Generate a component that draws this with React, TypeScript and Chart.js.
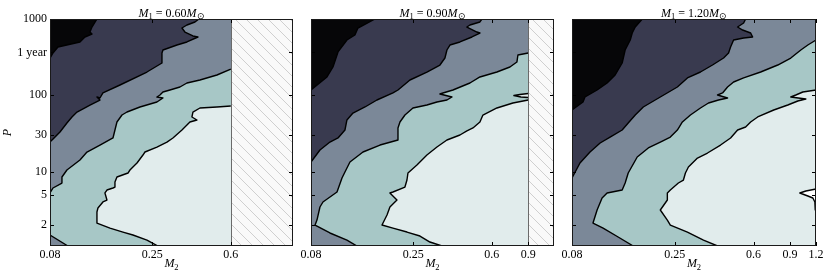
import React, { useEffect, useRef } from 'react';
import { Chart, registerables } from 'chart.js';
Chart.register(...registerables);

const SERIF = '"Liberation Serif", "Times New Roman", serif';

// ---- axes ----
const M2_MIN = 0.08;
const M2_MAX = 1.2;
const P_MIN = 1.06;
const P_MAX = 1000;
const yTickValues = [2, 5, 10, 30, 100, 365, 1000];
const yTickLabels = ['2', '5', '10', '30', '100', '1 year', '1000'];
const xTicks060 = [0.08, 0.25, 0.6];
const xTicks090 = [0.08, 0.25, 0.6, 0.9];
const xTicks120 = [0.08, 0.25, 0.6, 0.9, 1.2];
const m1Labels = ['0.60', '0.90', '1.20'];
const hatchFrom = [0.6, 0.9, null];

// fill colours of contour levels (lowest -> highest), last one = above top level
const levelColors = ['#060608', '#393a4f', '#7b8898', '#a7c7c6', '#e1ecec', '#ffffff'];

// ---- M1 = 0.60 ----
const m060_c1_M2 = [0.135, 0.1277, 0.1249, 0.1277, 0.1181, 0.1117, 0.0874, 0.0827, 0.08];
const m060_c1_P = [1000, 785, 675, 636, 581, 500, 430, 359, 308];
const m060_c2_M2 = [0.4207, 0.4023, 0.368, 0.3481, 0.3599, 0.3934, 0.416, 0.368, 0.3293, 0.2817, 0.2786, 0.2786, 0.2357, 0.1745, 0.1443, 0.1396, 0.135, 0.1396, 0.1249, 0.1081, 0.1022, 0.0966, 0.0894, 0.0846, 0.08];
const m060_c2_P = [1000, 914, 834, 762, 675, 599, 581, 500, 456, 392.5, 359, 265, 202, 136.5, 107.3, 92.2, 95.0, 86.8, 74.6, 60.4, 52.0, 43.4, 33.1, 28.4, 24.4];
const m060_c3_M2 = [0.6, 0.5141, 0.4254, 0.368, 0.3404, 0.3045, 0.2817, 0.2724, 0.2634, 0.2817, 0.2724, 0.2634, 0.218, 0.1887, 0.1784, 0.1687, 0.165, 0.1614, 0.1396, 0.1208, 0.1117, 0.0966, 0.0914, 0.0914, 0.0827, 0.08];
const m060_c3_P = [221, 184.6, 158.7, 145, 128.5, 117.4, 110.5, 100.9, 95.0, 92.2, 86.8, 81.7, 70.3, 60.4, 55.2, 44.7, 35.1, 27.6, 22.3, 18.07, 14.19, 10.5, 8.5, 7.09, 6.1, 5.25];
const m060_c4_M2 = [0.6, 0.5141, 0.4254, 0.3934, 0.3891, 0.4114, 0.3805, 0.368, 0.3481, 0.3148, 0.2945, 0.2634, 0.2305, 0.2254, 0.2109, 0.195, 0.1908, 0.1687, 0.165, 0.165, 0.1614, 0.1509, 0.1476, 0.1509, 0.1443, 0.1365, 0.135, 0.135, 0.1561, 0.1804, 0.2016, 0.2357, 0.2663];
const m060_c4_P = [72.4, 70.3, 68.2, 60.4, 52.0, 47.5, 44.7, 40.8, 35.1, 27.6, 24.4, 21.0, 18.07, 16.5, 12.96, 10.5, 9.59, 8.5, 7.31, 6.28, 6.1, 5.74, 5.25, 4.245, 4.0, 3.34, 2.96, 2.12, 1.82, 1.615, 1.476, 1.269, 1.06];
const m060_corner_M2 = [0.08, 0.0977];
const m060_corner_P = [1.476, 1.06];

// ---- M1 = 0.90 ----
const m090_c1_M2 = [0.1632, 0.135, 0.1305, 0.1194, 0.1081, 0.1022, 0.0956, 0.08];
const m090_c1_P = [1000, 762, 617, 531, 370, 235, 174, 117.4];
const m090_c2_M2 = [0.5375, 0.5256, 0.4702, 0.4547, 0.5083, 0.5256, 0.4808, 0.4207, 0.3763, 0.3639, 0.3559, 0.3366, 0.2912, 0.241, 0.2109, 0.1994, 0.1668, 0.146, 0.1277, 0.1194, 0.1168, 0.1081, 0.0988, 0.0884, 0.08];
const m090_c2_P = [1000, 914, 834, 785, 675, 655, 581, 500, 456, 392.5, 308, 249.5, 202, 158.7, 117.4, 107.3, 86.8, 70.3, 58.6, 47.5, 35.1, 27.6, 24.4, 19.19, 13.36];
const m090_c3_M2 = [0.9, 0.8027, 0.7937, 0.7342, 0.6352, 0.5256, 0.4702, 0.3891, 0.3481, 0.3366, 0.3848, 0.3639, 0.3256, 0.2912, 0.2492, 0.2279, 0.2156, 0.2109, 0.2109, 0.1726, 0.1428, 0.1235, 0.1168, 0.113, 0.1069, 0.0914, 0.0884, 0.0855, 0.0837, 0.0988, 0.1194, 0.1335];
const m090_c3_P = [359, 337.5, 273, 235, 202, 174, 145, 117.4, 107.3, 104.1, 95.0, 86.8, 81.7, 74.6, 68.2, 55.2, 44.7, 37.3, 25.95, 22.3, 18.07, 13.36, 9.88, 8.25, 5.41, 4.0, 3.44, 2.32, 1.995, 1.57, 1.269, 1.06];
const m090_c4_M2 = [0.9, 0.7592, 0.6352, 0.5435, 0.5256, 0.4863, 0.4547, 0.4207, 0.3639, 0.3256, 0.2912, 0.2605, 0.2357, 0.2331, 0.2279, 0.1994, 0.1928, 0.2085, 0.1928, 0.1866, 0.1765, 0.1994, 0.2331, 0.2694, 0.3011, 0.3442];
const m090_c4_P = [86.8, 79.3, 68.2, 55.2, 44.7, 37.3, 34.1, 30.2, 25.95, 21.0, 16.5, 12.2, 9.59, 7.76, 6.28, 5.41, 5.25, 4.245, 3.44, 2.7, 1.995, 1.82, 1.615, 1.432, 1.195, 1.06];
const m090_tongue_M2 = [0.9, 0.8206, 0.7676, 0.8298, 0.9];
const m090_tongue_P = [105.7, 102.5, 99.4, 95.0, 93.6];

// ---- M1 = 1.20 ----
const m120_c1_M2 = [0.1745, 0.1614, 0.1561, 0.1527, 0.1443, 0.1396, 0.1291, 0.1181, 0.1057, 0.0924, 0.0904, 0.08];
const m120_c1_P = [1000, 785, 655, 531, 392.5, 265, 184.6, 145, 117.4, 95.0, 81.7, 64.2];
const m120_c2_M2 = [0.5495, 0.5375, 0.5027, 0.5315, 0.581, 0.5941, 0.5375, 0.4808, 0.465, 0.4547, 0.4302, 0.3805, 0.3329, 0.288, 0.2576, 0.2132, 0.1765, 0.1614, 0.1493, 0.1396, 0.1221, 0.1093, 0.0977, 0.0874, 0.08];
const m120_c2_P = [1000, 887, 785, 717, 655, 581, 564, 531, 430, 359, 308, 249.5, 202, 169, 128.5, 95.0, 70.3, 55.2, 43.4, 35.1, 28.4, 23.7, 18.07, 12.96, 8.25];
const m120_c3_M2 = [1.2, 1.096, 1.014, 0.9071, 0.7849, 0.6494, 0.5375, 0.4808, 0.4497, 0.4254, 0.4023, 0.4497, 0.4068, 0.3639, 0.3329, 0.2978, 0.2724, 0.2576, 0.2383, 0.2132, 0.1866, 0.165, 0.1493, 0.1443, 0.1396, 0.1181, 0.1117, 0.1057, 0.101, 0.113, 0.1335, 0.1579];
const m120_c3_P = [531, 456, 392.5, 308, 249.5, 202, 169, 149.5, 128.5, 107.3, 100.9, 92.2, 86.8, 79.3, 68.2, 55.2, 44.7, 35.1, 28.4, 24.4, 20.4, 15.54, 9.59, 7.09, 5.74, 5.25, 4.51, 3.14, 2.12, 1.82, 1.39, 1.06];
const m120_c4_M2 = [1.2, 1.037, 0.959, 0.9071, 1.072, 0.9807, 0.8774, 0.7507, 0.6282, 0.581, 0.5495, 0.5027, 0.465, 0.416, 0.3599, 0.322, 0.2912, 0.2817, 0.2755, 0.2605, 0.2383, 0.2305, 0.2305, 0.2132, 0.2305, 0.2383, 0.288, 0.3442, 0.4023];
const m120_c4_P = [117.4, 110.5, 100.9, 95.0, 89.4, 84.2, 74.6, 64.2, 52.0, 44.7, 38.4, 35.1, 27.6, 22.3, 17.53, 15.08, 11.49, 9.59, 7.76, 7.09, 5.74, 5.25, 4.245, 3.14, 2.32, 1.995, 1.615, 1.269, 1.06];
const m120_island_M2 = [1.2, 1.072, 1.003, 1.096, 1.159, 1.185, 1.19, 1.2];
const m120_island_P = [5.92, 5.57, 5.25, 4.79, 4.51, 4.0, 3.14, 3.14];

type Curve = { m2: number[]; p: number[]; level: number; kind: 'boundary' | 'corner' | 'closed' };

const panelCurves: Curve[][] = [
  [
    { m2: m060_c1_M2, p: m060_c1_P, level: 1, kind: 'boundary' },
    { m2: m060_c2_M2, p: m060_c2_P, level: 2, kind: 'boundary' },
    { m2: m060_c3_M2, p: m060_c3_P, level: 3, kind: 'boundary' },
    { m2: m060_c4_M2, p: m060_c4_P, level: 4, kind: 'boundary' },
    { m2: m060_corner_M2, p: m060_corner_P, level: 2, kind: 'corner' },
  ],
  [
    { m2: m090_c1_M2, p: m090_c1_P, level: 1, kind: 'boundary' },
    { m2: m090_c2_M2, p: m090_c2_P, level: 2, kind: 'boundary' },
    { m2: m090_c3_M2, p: m090_c3_P, level: 3, kind: 'boundary' },
    { m2: m090_c4_M2, p: m090_c4_P, level: 4, kind: 'boundary' },
    { m2: m090_tongue_M2, p: m090_tongue_P, level: 4, kind: 'closed' },
  ],
  [
    { m2: m120_c1_M2, p: m120_c1_P, level: 1, kind: 'boundary' },
    { m2: m120_c2_M2, p: m120_c2_P, level: 2, kind: 'boundary' },
    { m2: m120_c3_M2, p: m120_c3_P, level: 3, kind: 'boundary' },
    { m2: m120_c4_M2, p: m120_c4_P, level: 4, kind: 'boundary' },
    { m2: m120_island_M2, p: m120_island_P, level: 5, kind: 'closed' },
  ],
];
const panelXTicks = [xTicks060, xTicks090, xTicks120];
const panelBoxes = [
  { left: 50, width: 243 },
  { left: 311, width: 243 },
  { left: 572, width: 244 },
];

const fmtX = (v: number) => String(v);

function drawRich(ctx: CanvasRenderingContext2D, parts: { t: string; f: string; dy?: number }[], cx: number, base: number) {
  let total = 0;
  for (const p of parts) { ctx.font = p.f; total += ctx.measureText(p.t).width; }
  let x = cx - total / 2;
  ctx.textAlign = 'left';
  ctx.textBaseline = 'alphabetic';
  ctx.fillStyle = '#000';
  for (const p of parts) {
    ctx.font = p.f;
    ctx.fillText(p.t, x, base + (p.dy || 0));
    x += ctx.measureText(p.t).width;
  }
}

const IT = `italic 12px ${SERIF}`;
const RM = `12px ${SERIF}`;
const SUB = `8.5px ${SERIF}`;

function Panel({ idx }: { idx: number }) {
  const ref = useRef<HTMLCanvasElement>(null);
  const box = panelBoxes[idx];
  const cw = box.width + 62;
  useEffect(() => {
    const canvas = ref.current!;
    const curves = panelCurves[idx];
    const xt = panelXTicks[idx];
    const fills: any[] = [];
    const lines: any[] = [];
    for (const c of curves) {
      const pts = c.m2.map((m, i) => ({ x: m, y: c.p[i] }));
      let poly = pts;
      if (c.kind === 'boundary') poly = [...pts, { x: 0.01, y: 0.1 }, { x: 10, y: 0.1 }, { x: 10, y: 1e5 }];
      else if (c.kind === 'corner') poly = [...pts, { x: 0.01, y: 0.1 }];
      fills.push({
        data: poly, showLine: true, fill: 'shape', backgroundColor: levelColors[c.level],
        borderColor: 'rgba(0,0,0,0)', borderWidth: 0, pointRadius: 0,
      });
      lines.push({
        data: pts, showLine: true, fill: false, borderColor: '#000', borderWidth: 1.4,
        borderJoinStyle: 'round', pointRadius: 0,
      });
    }
    const all = [...fills, ...lines];
    const datasets = all.map((d, i) => ({ ...d, order: all.length - i }));

    const decor = {
      id: 'decor',
      beforeDatasetsDraw(chart: any) {
        const { ctx, chartArea: a } = chart;
        ctx.save();
        ctx.fillStyle = levelColors[0];
        ctx.fillRect(a.left, a.top, a.right - a.left, a.bottom - a.top);
        ctx.restore();
      },
      afterDatasetsDraw(chart: any) {
        const { ctx, chartArea: a, scales } = chart;
        const xs = scales.x, ys = scales.y;
        ctx.save();
        const hf = hatchFrom[idx];
        if (hf) {
          const hx = Math.round(xs.getPixelForValue(hf));
          ctx.save();
          ctx.fillStyle = '#f9f9f9';
          ctx.fillRect(hx, a.top, a.right - hx, a.bottom - a.top);
          ctx.beginPath();
          ctx.rect(hx, a.top, a.right - hx, a.bottom - a.top);
          ctx.clip();
          ctx.strokeStyle = '#c4c4c4';
          ctx.lineWidth = 0.8;
          const h = a.bottom - a.top;
          for (let s = hx - h; s < a.right + 2; s += 11) {
            ctx.beginPath();
            ctx.moveTo(s, a.top);
            ctx.lineTo(s + h, a.bottom);
            ctx.stroke();
          }
          ctx.restore();
          ctx.strokeStyle = '#6a6a6a';
          ctx.lineWidth = 1;
          ctx.beginPath();
          ctx.moveTo(hx + 0.5, a.top);
          ctx.lineTo(hx + 0.5, a.bottom);
          ctx.stroke();
        }
        // inward ticks
        ctx.strokeStyle = '#000';
        ctx.lineWidth = 1;
        ctx.beginPath();
        for (const t of xs.ticks) {
          const px = Math.round(xs.getPixelForValue(t.value)) + 0.5;
          ctx.moveTo(px, a.bottom); ctx.lineTo(px, a.bottom - 4);
          ctx.moveTo(px, a.top); ctx.lineTo(px, a.top + 4);
        }
        for (const t of ys.ticks) {
          const py = Math.round(ys.getPixelForValue(t.value)) + 0.5;
          ctx.moveTo(a.left, py); ctx.lineTo(a.left + 4, py);
          ctx.moveTo(a.right, py); ctx.lineTo(a.right - 4, py);
        }
        ctx.stroke();
        // frame
        ctx.strokeStyle = '#1a1a1a';
        ctx.strokeRect(a.left + 0.5, a.top + 0.5, a.right - a.left - 1, a.bottom - a.top - 1);
        ctx.restore();
      },
      afterDraw(chart: any) {
        const { ctx, chartArea: a } = chart;
        const cx = (a.left + a.right) / 2;
        ctx.save();
        drawRich(ctx, [
          { t: 'M', f: IT }, { t: '1', f: SUB, dy: 2.5 }, { t: ' = ' + m1Labels[idx], f: RM },
          { t: 'M', f: IT }, { t: '\u2299', f: SUB, dy: 2.5 },
        ], cx, 16.5);
        drawRich(ctx, [{ t: 'M', f: IT }, { t: '2', f: SUB, dy: 3 }], cx, 267);
        if (idx === 0) {
          ctx.translate(8, (a.top + a.bottom) / 2);
          ctx.rotate(-Math.PI / 2);
          ctx.font = IT;
          ctx.textAlign = 'center';
          ctx.textBaseline = 'middle';
          ctx.fillStyle = '#000';
          ctx.fillText('P', 0, 0);
        }
        ctx.restore();
      },
    };

    const chart = new Chart(canvas, {
      type: 'scatter',
      data: { datasets },
      options: {
        responsive: false,
        maintainAspectRatio: false,
        animation: false,
        devicePixelRatio: 1,
        events: [],
        layout: { padding: { left: 0, right: 12, top: 19, bottom: 0 } },
        plugins: { legend: { display: false }, tooltip: { enabled: false }, title: { display: false } },
        elements: { point: { radius: 0 }, line: { tension: 0 } },
        scales: {
          x: {
            type: 'logarithmic', min: M2_MIN, max: M2_MAX, bounds: 'data',
            grid: { display: false, drawTicks: false }, border: { display: false },
            afterBuildTicks: (s: any) => { s.ticks = xt.map((v) => ({ value: v })); },
            afterFit: (s: any) => { s.height = 31; },
            ticks: {
              autoSkip: false, maxRotation: 0, padding: 2, color: '#000',
              font: { family: SERIF, size: 12 },
              callback: (v: any) => fmtX(Number(v)),
            },
          },
          y: {
            type: 'logarithmic', min: P_MIN, max: P_MAX, bounds: 'data',
            grid: { display: false, drawTicks: false }, border: { display: false },
            afterBuildTicks: (s: any) => { s.ticks = yTickValues.map((v) => ({ value: v })); },
            afterFit: (s: any) => { s.width = 50; },
            ticks: {
              display: idx === 0, autoSkip: false, padding: 3, color: '#000',
              font: { family: SERIF, size: 12 },
              callback: (v: any) => yTickLabels[yTickValues.indexOf(Number(v))] ?? '',
            },
          },
        },
      } as any,
      plugins: [decor],
    });
    return () => chart.destroy();
  }, [idx]);
  return (
    <canvas
      ref={ref}
      width={cw}
      height={277}
      style={{ position: 'absolute', left: box.left - 50, top: 0, width: cw, height: 277 }}
    />
  );
}

export default function App() {
  return (
    <div style={{ position: 'fixed', left: 0, top: 0, width: 830, height: 277, background: '#fff', overflow: 'hidden' }}>
      <Panel idx={0} />
      <Panel idx={1} />
      <Panel idx={2} />
    </div>
  );
}
